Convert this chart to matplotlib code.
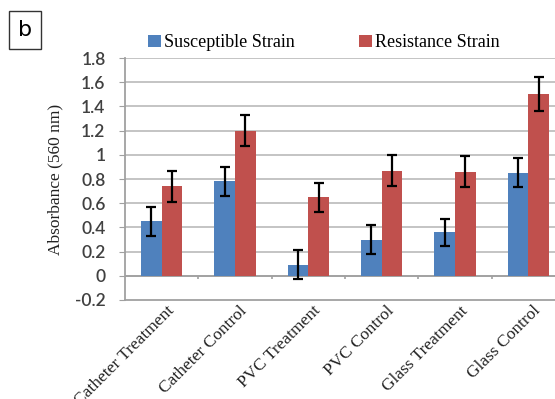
import matplotlib
matplotlib.use("Agg")
import matplotlib.pyplot as plt
import numpy as np

categories = ["Catheter Treatment", "Catheter Control", "PVC Treatment",
              "PVC Control", "Glass Treatment", "Glass Control"]
susceptible = [0.45, 0.78, 0.09, 0.30, 0.36, 0.85]
susceptible_err = [0.12, 0.12, 0.12, 0.12, 0.11, 0.12]
resistance = [0.74, 1.20, 0.65, 0.87, 0.86, 1.50]
resistance_err = [0.13, 0.13, 0.12, 0.13, 0.13, 0.14]
yticks = [-0.2, 0, 0.2, 0.4, 0.6, 0.8, 1, 1.2, 1.4, 1.6, 1.8]
ytick_labels = ["-0.2", "0", "0.2", "0.4", "0.6", "0.8", "1", "1.2", "1.4", "1.6", "1.8"]

W, H = 555, 399
fig = plt.figure(figsize=(W / 100, H / 100), dpi=100)
left, right, top, bottom = 125, 565, 58, 300
ax = fig.add_axes([left / W, (H - bottom) / H, (right - left) / W, (bottom - top) / H])

x = np.arange(len(categories)) + 0.5
bw = 0.28
blue = "#4F81BD"
red = "#C0504D"
ekw = dict(ecolor="black", elinewidth=1.6, capsize=3.5, capthick=1.6)
ax.bar(x - bw / 2, susceptible, bw, color=blue, yerr=susceptible_err, error_kw=ekw,
       label="Susceptible Strain", zorder=3)
ax.bar(x + bw / 2, resistance, bw, color=red, yerr=resistance_err, error_kw=ekw,
       label="Resistance Strain", zorder=3)

ax.set_xlim(0, len(categories))
ax.set_ylim(-0.2, 1.8)
ax.set_yticks(yticks)
ax.set_yticklabels(ytick_labels, family="Lato", fontsize=12.5, color="#404040",
                   fontweight="semibold")
for y in yticks[1:]:
    ax.axhline(y, color="#BFBFBF", lw=1.3, zorder=1)
ax.axhline(0, color="#A0A0A0", lw=1.3, zorder=2)
ax.vlines(np.arange(1, len(categories) + 1), -0.025, 0, color="#A0A0A0", lw=1.2, zorder=2)

for s in ["top", "right"]:
    ax.spines[s].set_visible(False)
for s in ["left", "bottom"]:
    ax.spines[s].set_color("#A0A0A0")
    ax.spines[s].set_linewidth(1.3)
ax.tick_params(axis="y", length=4, color="#A0A0A0", pad=10)
ax.tick_params(axis="x", length=0, pad=2)
ax.set_xticks(x + 0.06)
ax.set_xticklabels(categories, rotation=45, ha="right", rotation_mode="anchor",
                   family="Liberation Serif", fontsize=12.5, color="#222222")

ax.set_ylabel("Absorbance (560 nm)", family="Liberation Serif", fontsize=12.5, labelpad=8,
              color="#222222")

leg = fig.legend(loc="upper left", bbox_to_anchor=(132 / W, 1 - 18 / H), ncol=2,
                 frameon=False, prop={"family": "Liberation Serif", "size": 13},
                 handlelength=0.7, handleheight=0.7, handletextpad=0.15,
                 columnspacing=3.6)

fig.text(25 / W, 1 - 30 / H, "b", ha="center", va="center", fontsize=16,
         family="DejaVu Sans",
         bbox=dict(boxstyle="square,pad=0.4", fc="white", ec="#333333", lw=1))

fig.savefig("out.png", dpi=100)
